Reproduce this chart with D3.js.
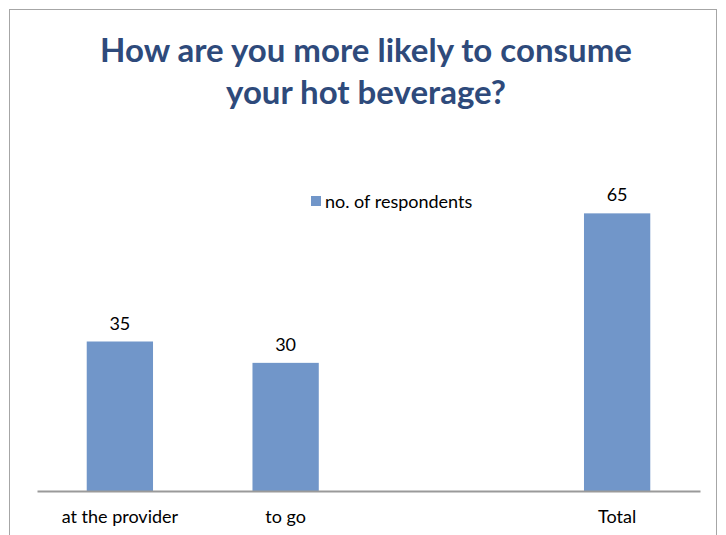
<!DOCTYPE html>
<html><head><meta charset="utf-8">
<script src="https://cdn.jsdelivr.net/npm/d3@7"></script>
<style>body{margin:0;background:#fff}</style>
</head><body>
<svg id="c" width="726" height="535"></svg>
<script>
const categories = ["at the provider", "to go", "", "Total"];
const values = [35, 30, null, 65];
const seriesName = "no. of respondents";
const titleLines = ["How are you more likely to consume", "your hot beverage?"];

const svg = d3.select("#c");
const font = "Lato, 'Open Sans', sans-serif";
svg.append("rect").attr("x", 9.5).attr("y", 9.5).attr("width", 707).attr("height", 540)
  .attr("fill", "#fff").attr("stroke", "#a6a6a6").attr("stroke-width", 1);

const x = d3.scaleBand().domain(categories).range([37, 700]).paddingInner(0.6).paddingOuter(0.3);
const y = d3.scaleLinear().domain([0, 70]).range([491, 192]);

svg.selectAll("text.title").data(titleLines).join("text")
  .attr("x", 366).attr("y", (d, i) => 62 + i * 42)
  .attr("text-anchor", "middle").attr("font-family", font).attr("font-weight", "bold")
  .attr("font-size", 33).attr("fill", "#2E4A7B").text(d => d);

const data = categories.map((c, i) => ({c, v: values[i]})).filter(d => d.v != null);
svg.selectAll("rect.bar").data(data).join("rect")
  .attr("x", d => x(d.c)).attr("width", x.bandwidth())
  .attr("y", d => y(d.v)).attr("height", d => y(0) - y(d.v)).attr("fill", "#7196C9");

svg.selectAll("text.lbl").data(data).join("text")
  .attr("x", d => x(d.c) + x.bandwidth() / 2).attr("y", d => y(d.v) - 12)
  .attr("text-anchor", "middle").attr("font-family", font).attr("font-size", 18)
  .attr("fill", "#000").text(d => d.v);

const axis = svg.append("g").attr("transform", `translate(0,${y(0)})`)
  .call(d3.axisBottom(x).tickSize(0).tickPadding(19));
axis.select(".domain").attr("stroke", "#9a9a9a").attr("stroke-width", 2);
axis.selectAll("text").attr("font-family", font).attr("font-size", 18).attr("fill", "#000");

svg.append("rect").attr("x", 311).attr("y", 196).attr("width", 10).attr("height", 10).attr("fill", "#7196C9");
svg.append("text").attr("x", 325).attr("y", 208).attr("font-family", font).attr("font-size", 18)
  .attr("fill", "#000").text(seriesName);
</script>
</body></html>
